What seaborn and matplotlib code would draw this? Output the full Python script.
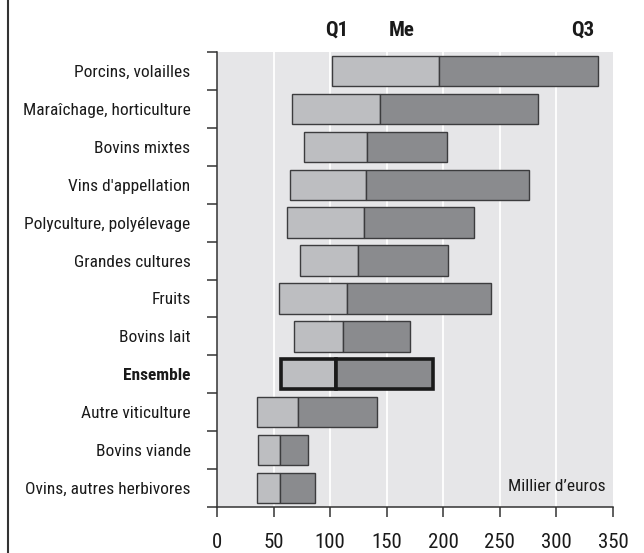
import matplotlib
matplotlib.use("Agg")
import matplotlib.pyplot as plt
import matplotlib.transforms as mtransforms
from matplotlib.lines import Line2D
import seaborn as sns
import pandas as pd
import numpy as np

categories = ["Porcins, volailles", "Maraîchage, horticulture", "Bovins mixtes",
              "Vins d'appellation", "Polyculture, polyélevage", "Grandes cultures",
              "Fruits", "Bovins lait", "Ensemble", "Autre viticulture",
              "Bovins viande", "Ovins, autres herbivores"]
q1 = [101.5, 66.5, 77, 64.5, 62, 73, 55, 68, 57, 35.5, 36.5, 35.5]
me = [196.5, 144, 132.5, 131.5, 130, 124.5, 115, 111.5, 105.5, 71.5, 55.5, 55.5]
q3 = [337, 284, 203, 276, 227, 204, 242, 170.5, 190.5, 141.5, 80.5, 86.5]
xticks = [0, 50, 100, 150, 200, 250, 300, 350]
header = ["Q1", "Me", "Q3"]
header_x = [105.8, 163.2, 323.2]
unit_label = "Millier d\u2019euros"

sns.set_theme(style="white")
plt.rcParams["font.family"] = ["Roboto Condensed", "DejaVu Sans"]
plt.rcParams["font.stretch"] = "condensed"

df = pd.DataFrame({"cat": categories, "q1": q1, "me": me, "q3": q3})
df["low"] = df["me"] - df["q1"]
df["high"] = df["q3"] - df["me"]

fig = plt.figure(figsize=(6.44, 5.53), dpi=100)
ax = fig.add_axes([217/644, 1-507/553, 396/644, 455/553])
ax.set_facecolor("#e6e6e8")

edge = "#3c3c3e"
sns.barplot(data=df, y="cat", x="low", order=categories, orient="y",
            color="#bdbec1", saturation=1, edgecolor=edge, linewidth=1.0,
            width=0.8, left=df["q1"].to_numpy(), ax=ax, zorder=3, errorbar=None)
sns.barplot(data=df, y="cat", x="high", order=categories, orient="y",
            color="#8a8b8e", saturation=1, edgecolor=edge, linewidth=1.0,
            width=0.8, left=df["me"].to_numpy(), ax=ax, zorder=3, errorbar=None)

idx = categories.index("Ensemble")
for cont in ax.containers:
    p = cont[idx]
    p.set_linewidth(2.6)
    p.set_edgecolor("#1a1a1a")

n = len(categories)
ax.set_xlim(0, 350)
ax.set_ylim(n - 0.5, -0.5)
ax.set_xticks(xticks)
ax.set_xticklabels([str(t) for t in xticks])
ax.set_xlabel("")
ax.set_ylabel("")
for t in xticks[1:-1]:
    ax.axvline(t, color="white", lw=1.3, zorder=1)

ax.set_yticks(range(n))
ax.set_yticklabels(categories)
ax.set_yticks(np.arange(-0.5, n, 1), minor=True)
ax.tick_params(axis="y", which="major", length=0, pad=19, labelsize=12.5, labelcolor="#1a1a1a")
ax.tick_params(axis="y", which="minor", length=7.5, width=1.1, color="#333333", direction="out", left=True)
ax.tick_params(axis="x", which="major", length=7.5, width=1.1, color="#333333", direction="out",
               bottom=True, pad=11, labelsize=15, labelcolor="#1a1a1a")
for lab in ax.get_yticklabels():
    if lab.get_text() == "Ensemble":
        lab.set_fontweight("bold")

for s in ["top", "right"]:
    ax.spines[s].set_visible(False)
for s in ["left", "bottom"]:
    ax.spines[s].set_visible(True)
    ax.spines[s].set_color("#333333")
    ax.spines[s].set_linewidth(1.1)

trans = mtransforms.blended_transform_factory(ax.transData, ax.transAxes)
for h, hx in zip(header, header_x):
    ax.text(hx, 1.048, h, transform=trans, ha="center", va="center",
            fontsize=15, fontweight="bold", color="#1a1a1a")
ax.text(343.8, 0.045, unit_label, transform=trans, ha="right", va="center",
        fontsize=12.5, color="#1a1a1a", zorder=5)

fig.add_artist(Line2D([8/644, 8/644], [0, 1], transform=fig.transFigure,
                      color="#333333", lw=1.5))

fig.savefig("out.png", dpi=100)
